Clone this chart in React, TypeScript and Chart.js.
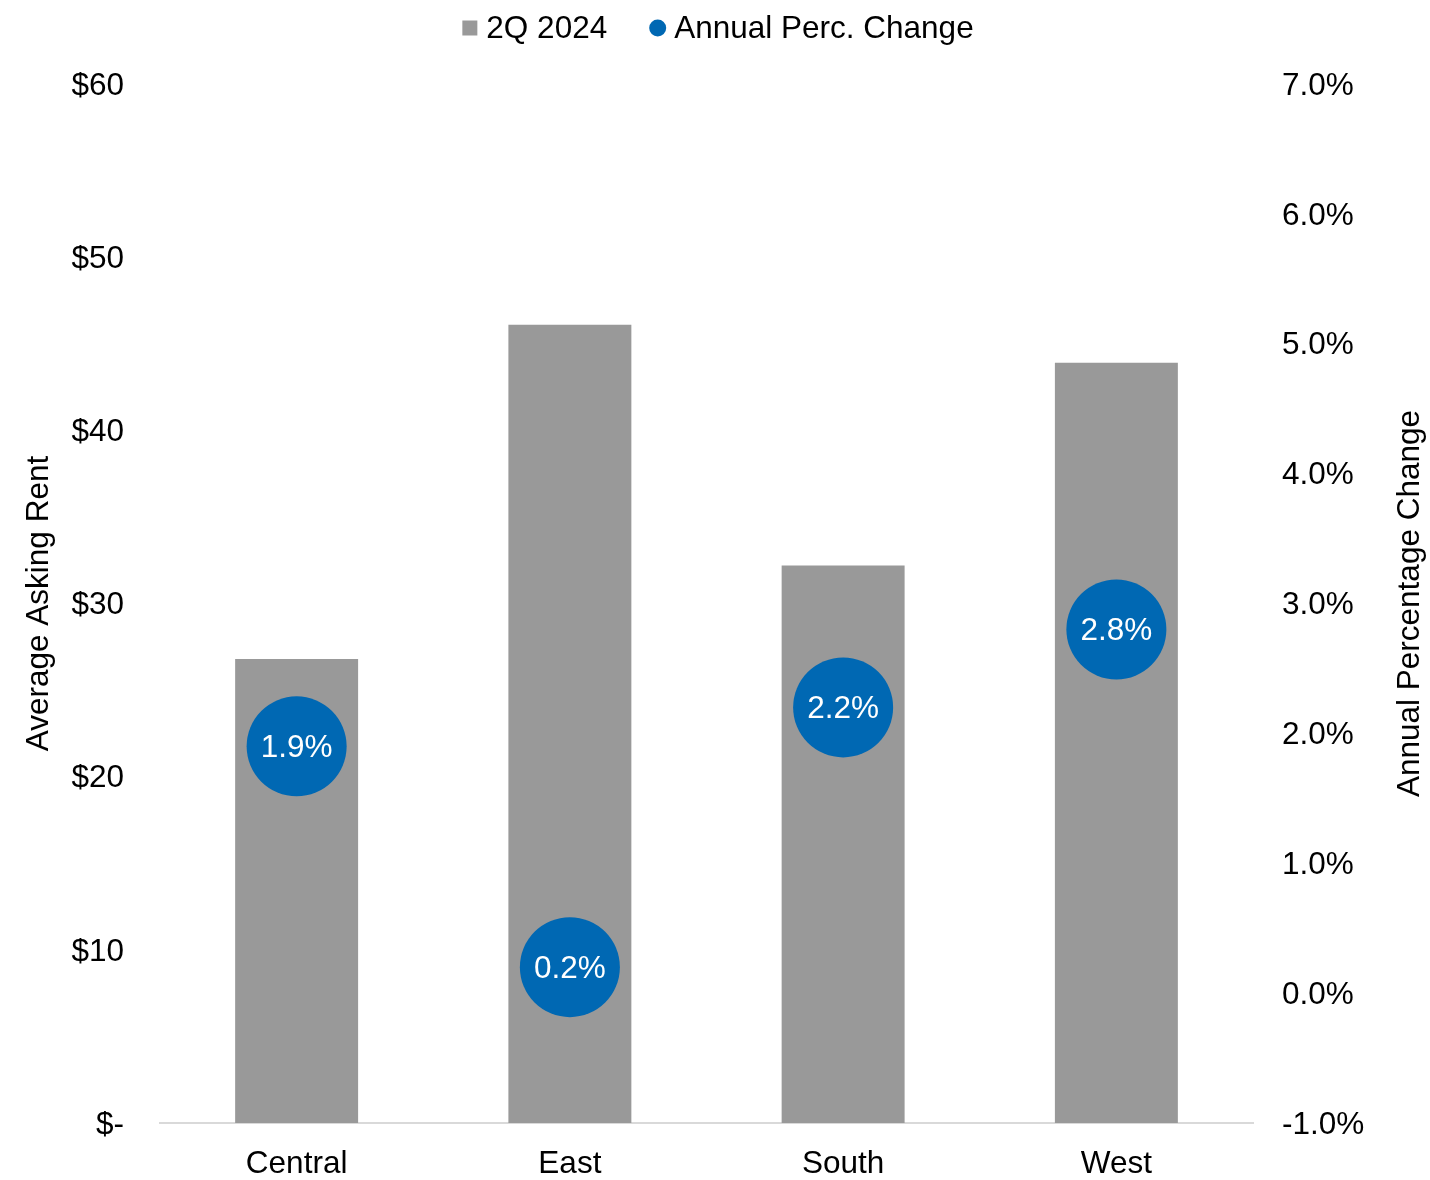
import React, { useEffect, useRef } from 'react';
import { Chart, registerables } from 'chart.js';

Chart.register(...registerables);

const categories: string[] = ['Central', 'East', 'South', 'West'];
const rentValues: number[] = [26.8, 46.1, 32.2, 43.9];
const changeValues: number[] = [1.9, 0.2, 2.2, 2.8];
const barLabel = '2Q 2024';
const pointLabel = 'Annual Perc. Change';
const leftTitle = 'Average Asking Rent';
const rightTitle = 'Annual Percentage Change';

const FONT = "'Liberation Sans', Arial, Helvetica, sans-serif";
const FONT_SIZE = 31.5;
const BAR_COLOR = '#999999';
const POINT_COLOR = '#0068B3';

const legendPlugin = {
  id: 'customLegend',
  afterDraw(chart: any) {
    const ctx = chart.ctx as CanvasRenderingContext2D;
    ctx.save();
    ctx.font = `${FONT_SIZE}px ${FONT}`;
    ctx.textBaseline = 'middle';
    ctx.textAlign = 'left';
    const ds = chart.data.datasets;
    const w1 = ctx.measureText(ds[0].label).width;
    const w2 = ctx.measureText(ds[1].label).width;
    const sq = 15, gap1 = 9, gapItems = 42, circ = 17, gap2 = 8;
    const total = sq + gap1 + w1 + gapItems + circ + gap2 + w2;
    let x = chart.width / 2 + 3 - total / 2;
    const cy = 28;
    ctx.fillStyle = ds[0].backgroundColor;
    ctx.fillRect(x, cy - sq / 2, sq, sq);
    x += sq + gap1;
    ctx.fillStyle = '#000000';
    ctx.fillText(ds[0].label, x, cy + 1);
    x += w1 + gapItems;
    ctx.fillStyle = ds[1].backgroundColor;
    ctx.beginPath();
    ctx.arc(x + circ / 2, cy, circ / 2, 0, Math.PI * 2);
    ctx.fill();
    x += circ + gap2;
    ctx.fillStyle = '#000000';
    ctx.fillText(ds[1].label, x, cy + 1);
    ctx.restore();
  },
};

const extrasPlugin = {
  id: 'extras',
  afterDatasetsDraw(chart: any) {
    const ctx = chart.ctx as CanvasRenderingContext2D;
    const meta = chart.getDatasetMeta(1);
    const data = chart.data.datasets[1].data as number[];
    ctx.save();
    ctx.font = `${FONT_SIZE}px ${FONT}`;
    ctx.fillStyle = '#FFFFFF';
    ctx.textAlign = 'center';
    ctx.textBaseline = 'middle';
    meta.data.forEach((el: any, i: number) => {
      ctx.fillText(data[i].toFixed(1) + '%', el.x, el.y + 2);
    });
    ctx.restore();
  },
  afterDraw(chart: any) {
    const ctx = chart.ctx as CanvasRenderingContext2D;
    const area = chart.chartArea;
    ctx.save();
    ctx.font = `${FONT_SIZE}px ${FONT}`;
    ctx.fillStyle = '#000000';
    ctx.textAlign = 'center';
    ctx.textBaseline = 'middle';
    ctx.translate(1410, (area.top + area.bottom) / 2);
    ctx.rotate(-Math.PI / 2);
    ctx.fillText(rightTitle, 0, 0);
    ctx.restore();
  },
};

export default function App() {
  const ref = useRef<HTMLCanvasElement | null>(null);

  useEffect(() => {
    if (!ref.current) return;
    const tickFont = { family: FONT, size: FONT_SIZE };
    const chart = new Chart(ref.current, {
      type: 'bar',
      data: {
        labels: categories,
        datasets: [
          {
            type: 'bar',
            label: barLabel,
            data: rentValues,
            backgroundColor: BAR_COLOR,
            yAxisID: 'y',
            order: 2,
            barPercentage: 0.45,
            categoryPercentage: 1,
          },
          {
            type: 'line',
            label: pointLabel,
            data: changeValues,
            backgroundColor: POINT_COLOR,
            borderColor: POINT_COLOR,
            showLine: false,
            pointRadius: 50,
            pointHoverRadius: 50,
            pointBorderWidth: 0,
            pointStyle: 'circle',
            yAxisID: 'y1',
            order: 1,
          } as any,
        ],
      },
      options: {
        animation: false,
        responsive: false,
        maintainAspectRatio: false,
        layout: { padding: { top: 84, left: 0, right: 0, bottom: 0 } },
        plugins: {
          legend: { display: false },
          tooltip: { enabled: false },
        },
        scales: {
          x: {
            grid: { display: false, drawTicks: false },
            border: { display: true, color: '#D9D9D9', width: 2 },
            ticks: { font: tickFont, color: '#000000', padding: 22 },
            afterFit: (s: any) => { s.height = 57; },
          },
          y: {
            position: 'left',
            min: 0,
            max: 60,
            grid: { display: false, drawTicks: false },
            border: { display: false },
            ticks: {
              stepSize: 10,
              font: tickFont,
              color: '#000000',
              padding: 36,
              labelOffset: 2,
              callback: (v: any) => (Number(v) === 0 ? '$-' : '$' + v),
            },
            title: {
              display: true,
              text: leftTitle,
              font: tickFont,
              color: '#000000',
              padding: { top: 20, bottom: 0 },
            },
            afterFit: (s: any) => { s.width = 160; },
          },
          y1: {
            position: 'right',
            min: -1,
            max: 7,
            grid: { display: false, drawTicks: false },
            border: { display: false },
            ticks: {
              stepSize: 1,
              font: tickFont,
              color: '#000000',
              padding: 29,
              labelOffset: 2,
              callback: (v: any) => Number(v).toFixed(1) + '%',
            },
            afterFit: (s: any) => { s.width = 177; },
          },
        },
      } as any,
      plugins: [legendPlugin, extrasPlugin],
    });
    return () => chart.destroy();
  }, []);

  return (
    <div style={{ position: 'fixed', left: 0, top: 0, width: 1430, height: 1180, background: '#FFFFFF' }}>
      <canvas ref={ref} width={1430} height={1180} style={{ width: 1430, height: 1180, display: 'block' }} />
    </div>
  );
}
